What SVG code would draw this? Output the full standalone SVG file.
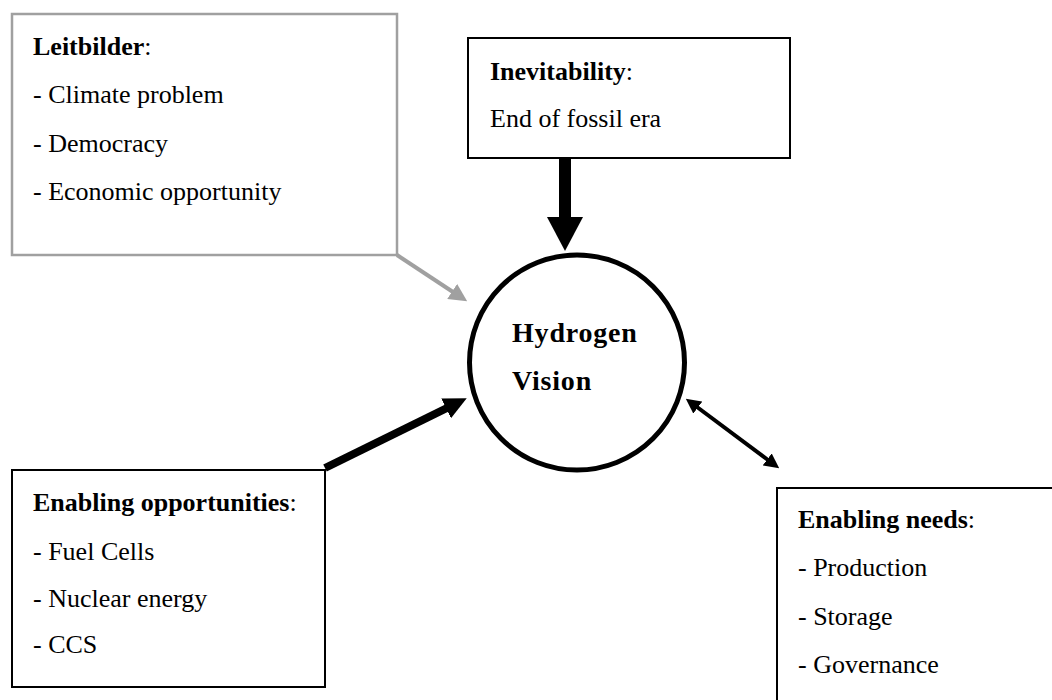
<svg xmlns="http://www.w3.org/2000/svg" width="1052" height="700" viewBox="0 0 1052 700">
  <style>
    .box { fill: #ffffff; stroke: #000000; stroke-width: 2; }
    .gbox { fill: #ffffff; stroke: #a0a0a0; stroke-width: 2.5; }
    text { font-family: "Liberation Serif", "Times New Roman", serif; font-size: 26px; fill: #000000; }
    .b { font-weight: bold; }
    .hv { font-weight: bold; font-size: 28px; letter-spacing: 0.8px; }
  </style>
  <defs>
    <marker id="hGray" markerUnits="userSpaceOnUse" markerWidth="18" markerHeight="18" refX="1" refY="9" orient="auto">
      <path d="M0,0 L18,9 L0,18 z" fill="#a0a0a0"/>
    </marker>
    <marker id="hDown" markerUnits="userSpaceOnUse" markerWidth="34" markerHeight="36" refX="1" refY="18" orient="auto">
      <path d="M0,0 L34,18 L0,36 z" fill="#000000"/>
    </marker>
    <marker id="hDiag" markerUnits="userSpaceOnUse" markerWidth="23" markerHeight="22" refX="1" refY="11" orient="auto">
      <path d="M0,0 L23,11 L0,22 z" fill="#000000"/>
    </marker>
    <marker id="hDbl" markerUnits="userSpaceOnUse" markerWidth="15" markerHeight="15" refX="1" refY="7.5" orient="auto-start-reverse">
      <path d="M0,0 L15,7.5 L0,15 z" fill="#000000"/>
    </marker>
  </defs>
  <rect width="1052" height="700" fill="#ffffff"/>

  <g id="connectors" fill="none">
    <line x1="397" y1="255" x2="453" y2="292" stroke="#a0a0a0" stroke-width="4" marker-end="url(#hGray)"/>
    <line x1="565" y1="158" x2="565" y2="218" stroke="#000000" stroke-width="12" marker-end="url(#hDown)"/>
    <line x1="325" y1="468" x2="447" y2="408" stroke="#000000" stroke-width="8" marker-end="url(#hDiag)"/>
    <line x1="697" y1="407" x2="768" y2="460" stroke="#000000" stroke-width="4" marker-start="url(#hDbl)" marker-end="url(#hDbl)"/>
  </g>

  <g id="leitbilder">
    <rect class="gbox" x="12" y="14" width="385" height="241"/>
    <text x="33" y="55"><tspan class="b">Leitbilder</tspan>:</text>
    <text x="33" y="103">- Climate problem</text>
    <text x="33" y="152">- Democracy</text>
    <text x="33" y="200">- Economic opportunity</text>
  </g>

  <g id="inevitability">
    <rect class="box" x="468" y="38" width="322" height="120"/>
    <text x="490" y="80"><tspan class="b">Inevitability</tspan>:</text>
    <text x="490" y="127">End of fossil era</text>
  </g>

  <g id="hydrogen-vision">
    <circle cx="577" cy="362.5" r="107.5" fill="#ffffff" stroke="#000000" stroke-width="5"/>
    <text class="hv" x="512" y="342">Hydrogen</text>
    <text class="hv" x="512" y="390">Vision</text>
  </g>

  <g id="enabling-opportunities">
    <rect class="box" x="12" y="470" width="313" height="217"/>
    <text x="33" y="511"><tspan class="b">Enabling opportunities</tspan>:</text>
    <text x="33" y="560">- Fuel Cells</text>
    <text x="33" y="607">- Nuclear energy</text>
    <text x="33" y="653">- CCS</text>
  </g>

  <g id="enabling-needs">
    <rect class="box" x="777" y="488" width="300" height="240"/>
    <text x="798" y="528"><tspan class="b">Enabling needs</tspan>:</text>
    <text x="798" y="576">- Production</text>
    <text x="798" y="625">- Storage</text>
    <text x="798" y="673">- Governance</text>
  </g>
</svg>
